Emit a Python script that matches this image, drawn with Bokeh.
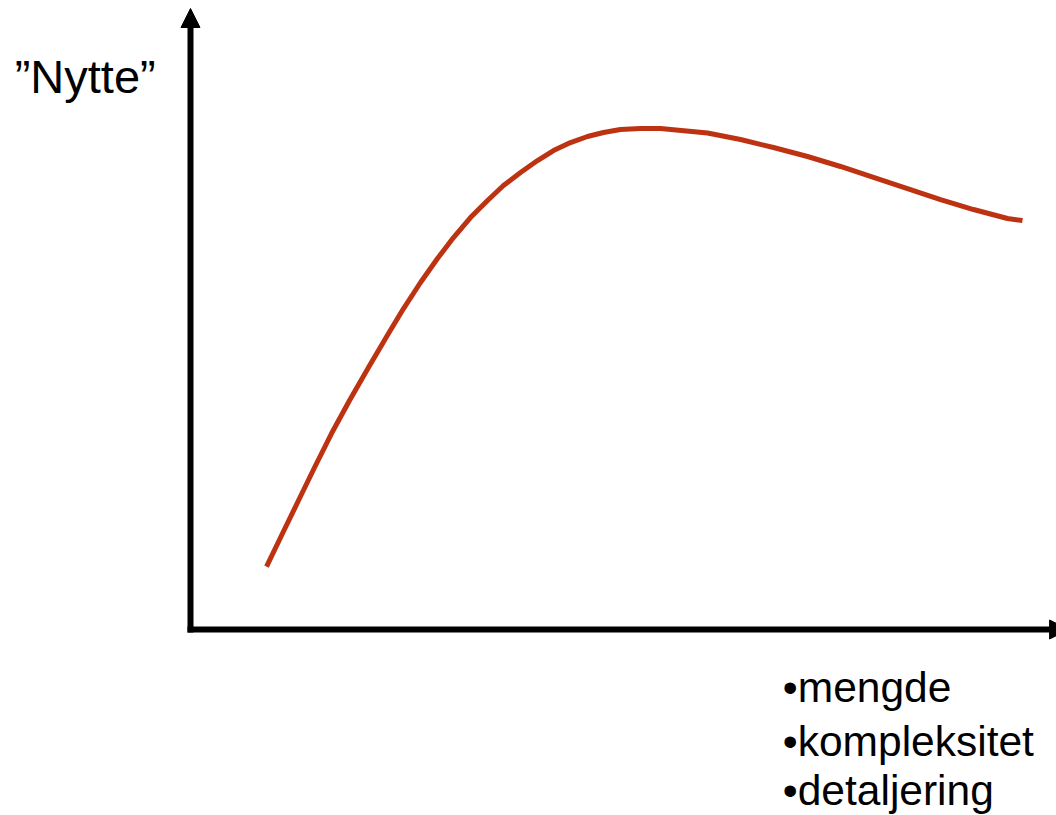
from bokeh.plotting import figure
from bokeh.models import Range1d, Arrow, NormalHead
from bokeh.core.properties import value
from bokeh.embed import file_html
from bokeh.resources import INLINE

# Curve values (x: "mengde/kompleksitet/detaljering", y: "Nytte"), axis units 0..100
curve_x = [8.78, 10.62, 12.47, 14.32, 16.28, 18.36, 20.55, 22.86, 24.60, 26.56,
           28.52, 30.37, 32.33, 34.30, 36.14, 38.11, 40.07, 41.92, 43.88, 45.84,
           47.69, 49.65, 51.96, 54.27, 55.77, 59.70, 63.51, 67.32, 71.25, 75.06,
           78.87, 82.79, 86.61, 90.42, 94.34, 96.07]
curve_y = [10.14, 15.46, 20.77, 26.09, 31.56, 36.88, 42.19, 47.66, 51.69, 55.88,
           59.74, 63.12, 66.34, 69.08, 71.50, 73.59, 75.52, 77.13, 78.42, 79.39,
           80.03, 80.52, 80.68, 80.66, 80.49, 79.95, 78.90, 77.62, 76.17, 74.56,
           72.79, 71.01, 69.24, 67.63, 66.18, 65.86]

y_label = "\u201dNytte\u201d"
x_labels = ["\u2022mengde", "\u2022kompleksitet", "\u2022detaljering"]

W, H = 1056, 815
p = figure(width=W, height=H, output_backend="svg", toolbar_location=None,
           x_range=Range1d(-21.94, 100.0), y_range=Range1d(-29.95, 101.29),
           min_border=0, outline_line_color=None)
p.axis.visible = False
p.grid.visible = False
p.background_fill_color = "white"
p.border_fill_color = "white"

# axes with arrow heads
p.add_layout(Arrow(end=NormalHead(size=19, fill_color="black", line_color="black", line_width=1),
                   x_start=0, y_start=-0.5, x_end=0, y_end=100.0,
                   line_width=6, line_color="black"))
p.add_layout(Arrow(end=NormalHead(size=19, fill_color="black", line_color="black", line_width=1),
                   x_start=-0.35, y_start=0, x_end=101.4, y_end=0,
                   line_width=6, line_color="black"))

p.line(curve_x, curve_y, line_width=5, line_color="#BD3311", line_join="round")

p.text(x=[-20.3], y=[89.0], text=[y_label], text_font=value("Liberation Sans"),
       text_font_size="47px", text_color="black", text_baseline="alphabetic")

p.text(x=[68.4, 68.4, 68.4], y=[-9.26, -18.11, -26.0], text=x_labels,
       text_font=value("Liberation Sans"), text_font_size="42.5px",
       text_color="black", text_baseline="alphabetic")

open("out.html", "w").write(file_html(p, INLINE))
